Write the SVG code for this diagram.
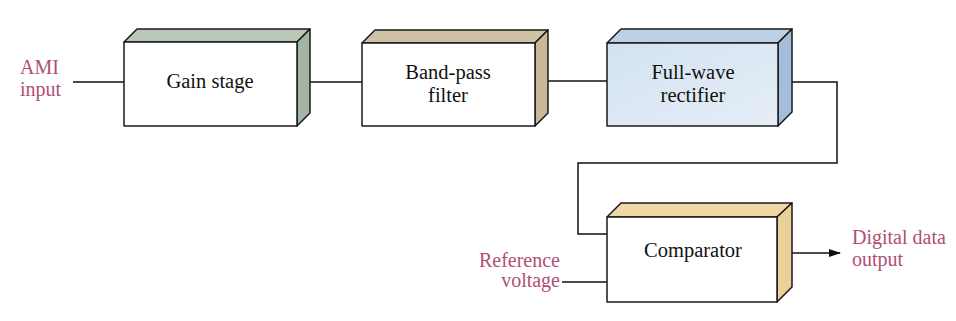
<svg xmlns="http://www.w3.org/2000/svg" width="956" height="321" viewBox="0 0 956 321">
<style>
.edge{stroke:#111;stroke-width:1.5;fill:none}
.box{stroke:#1a1a1a;stroke-width:1.5;stroke-linejoin:round}
.lbl{font-family:"Liberation Serif","Times New Roman",serif;font-size:20.5px;fill:#111;text-anchor:middle}
.io{font-family:"Liberation Serif","Times New Roman",serif;font-size:20px;fill:#b04f74}
</style>
<defs>
<marker id="arr" markerWidth="12" markerHeight="10" refX="11" refY="5" orient="auto" markerUnits="userSpaceOnUse">
<path d="M0,1 L12,5 L0,9 Z" fill="#111"/>
</marker>
<linearGradient id="blue" x1="0" y1="0" x2="1" y2="1">
<stop offset="0" stop-color="#d3e2f1"/>
<stop offset="1" stop-color="#e6eef7"/>
</linearGradient>
</defs>
<rect width="956" height="321" fill="#ffffff"/>
<g id="connectors">
<line class="edge" x1="73" y1="82" x2="124" y2="82"/>
<line class="edge" x1="302" y1="82" x2="362" y2="82"/>
<line class="edge" x1="541" y1="81" x2="607" y2="81"/>
<polyline class="edge" points="785,82 837,82 837,163 578,163 578,234 607,234"/>
<line class="edge" x1="562" y1="282" x2="607" y2="282"/>
<line class="edge" x1="784" y1="253" x2="840" y2="253" marker-end="url(#arr)"/>
</g>
<g id="gain">
<polygon class="box" points="124,42 137,29 310,29 297,42" fill="#b9c7b8"/>
<polygon class="box" points="297,42 310,29 310,113 297,126" fill="#a3b6a5"/>
<rect class="box" x="124" y="42" width="173" height="84" fill="#ffffff"/>
<text class="lbl" x="210" y="88">Gain stage</text>
</g>
<g id="bandpass">
<polygon class="box" points="362,43 375,30 548,30 535,43" fill="#cfc1a6"/>
<polygon class="box" points="535,43 548,30 548,113 535,126" fill="#c9b998"/>
<rect class="box" x="362" y="43" width="173" height="83" fill="#ffffff"/>
<text class="lbl" x="448" y="79">Band-pass</text>
<text class="lbl" x="448" y="102">filter</text>
</g>
<g id="rectifier">
<polygon class="box" points="607,43 621,29 792,29 778,43" fill="#bcd0e6"/>
<polygon class="box" points="778,43 792,29 792,112 778,126" fill="#a4bddb"/>
<rect class="box" x="607" y="43" width="171" height="83" fill="url(#blue)"/>
<text class="lbl" x="693" y="79">Full-wave</text>
<text class="lbl" x="693" y="102">rectifier</text>
</g>
<g id="comparator">
<polygon class="box" points="607,217 621,203 792,203 777,217" fill="#efd7a6"/>
<polygon class="box" points="777,217 792,203 792,287 777,302" fill="#ebd09a"/>
<rect class="box" x="607" y="217" width="170" height="85" fill="#ffffff"/>
<text class="lbl" x="693" y="257">Comparator</text>
</g>
<g id="labels">
<text class="io" x="20" y="74">AMI</text>
<text class="io" x="20" y="96">input</text>
<text class="io" x="560" y="267" text-anchor="end">Reference</text>
<text class="io" x="560" y="287" text-anchor="end">voltage</text>
<text class="io" x="852" y="244">Digital data</text>
<text class="io" x="852" y="266">output</text>
</g>
</svg>
